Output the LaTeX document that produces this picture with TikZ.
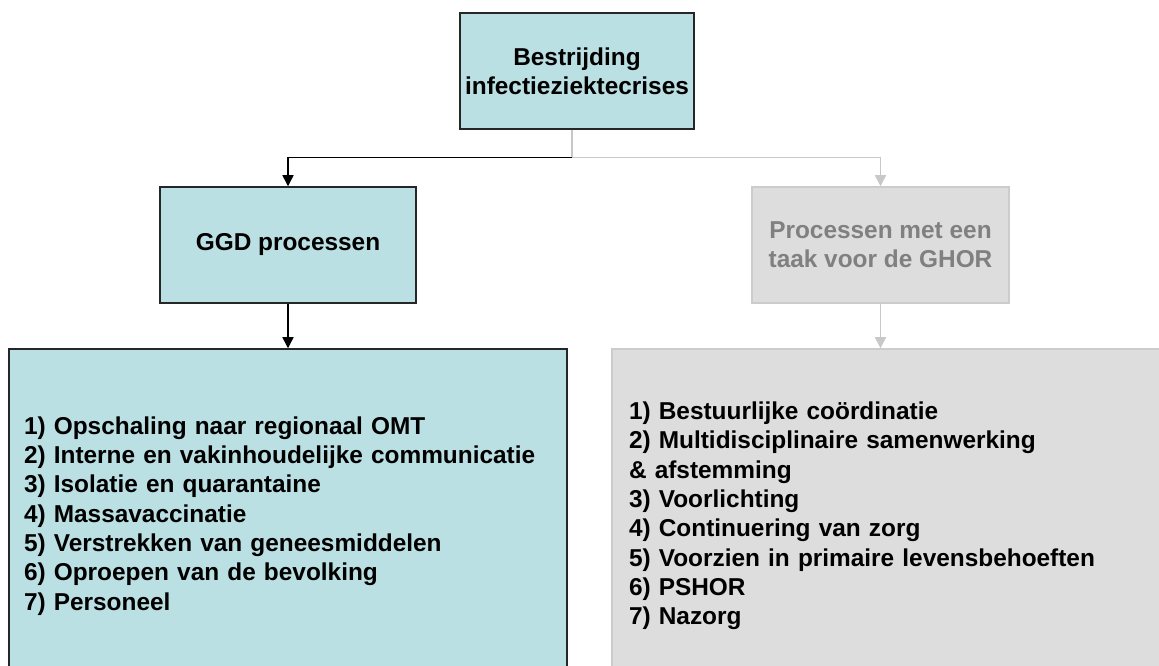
\documentclass[tikz,border=0pt]{standalone}
\usepackage{fontspec}
\setmainfont{Liberation Sans}
\usetikzlibrary{arrows.meta}

\definecolor{boxteal}{HTML}{BBE0E3}
\definecolor{boxgrey}{HTML}{DDDDDD}
\definecolor{edgegrey}{HTML}{CCCCCC}
\definecolor{linkgrey}{HTML}{C8C8C8}
\definecolor{labelgrey}{HTML}{808080}
\definecolor{edgedark}{HTML}{262626}

\tikzset{
  basebox/.style={rectangle, inner sep=0pt,
    font=\fontsize{18.3}{22}\selectfont\bfseries},
  tealbox/.style={basebox, fill=boxteal, draw=edgedark, line width=1.1pt},
  greybox/.style={basebox, fill=boxgrey, draw=edgegrey, line width=1.1pt},
  darklink/.style={draw=black, line width=1.1pt,
    -{Triangle[width=8.3pt,length=8.3pt]}},
  lightlink/.style={draw=linkgrey, line width=1.1pt,
    -{Triangle[width=8.3pt,length=8.3pt]}},
}

\begin{document}
\begin{tikzpicture}[x=0.75pt, y=-0.75pt]
\useasboundingbox (0,0) rectangle (1159,666);
\clip (0,0) rectangle (1159,666);

% top of the hierarchy
\node[tealbox, align=center, minimum width=234*0.75pt, minimum height=116*0.75pt]
  (top) at (577,71) {Bestrijding\\infectieziektecrises};

% second level
\node[tealbox, align=center, minimum width=256*0.75pt, minimum height=116*0.75pt]
  (ggd) at (288,245) {GGD processen};
\node[greybox, align=center, text=labelgrey, minimum width=257*0.75pt, minimum height=116*0.75pt]
  (ghor) at (880.5,245) {Processen met een\\taak voor de GHOR};

% process lists
\node[tealbox, align=left, inner xsep=15*0.75pt, text width=528*0.75pt,
      minimum height=334*0.75pt]
  (ggdlist) at (288,516) {1) Opschaling naar regionaal OMT\\
2) Interne en vakinhoudelijke communicatie\\
3) Isolatie en quarantaine\\
4) Massavaccinatie\\
5) Verstrekken van geneesmiddelen\\
6) Oproepen van de bevolking\\
7) Personeel};
\node[greybox, align=left, inner xsep=17*0.75pt, text width=524*0.75pt,
      minimum height=334*0.75pt]
  (ghorlist) at (891,516) {1) Bestuurlijke coördinatie\\
2) Multidisciplinaire samenwerking\\
\& afstemming\\
3) Voorlichting\\
4) Continuering van zorg\\
5) Voorzien in primaire levensbehoeften\\
6) PSHOR\\
7) Nazorg};

% branching connectors
\coordinate (split) at (572,157.5);
\draw[lightlink] (split |- top.south) -- (split) -| (ghor.north);
\draw[darklink] (split) -| (ggd.north);
\draw[darklink] (ggd.south) -- (ggdlist.north);
\draw[lightlink] (ghor.south) -- (ghor.south |- ghorlist.north);
\end{tikzpicture}
\end{document}
